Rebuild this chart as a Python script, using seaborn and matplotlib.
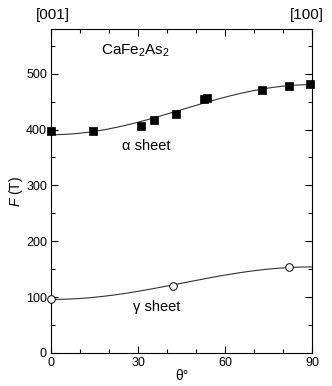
import numpy as np
import pandas as pd
import matplotlib.pyplot as plt
import seaborn as sns
from matplotlib.ticker import MultipleLocator

# alpha sheet (filled squares)
alpha_theta = [0, 14.5, 31, 35.6, 43, 52.8, 53.8, 72.9, 82, 89.3]
alpha_F = [397, 397, 406, 417, 427, 455, 456, 470, 477, 481]

# gamma sheet (open circles)
gamma_theta = [0, 42.2, 82.2]
gamma_F = [97, 120, 154]

sns.set_theme(style="ticks")
plt.rcParams['font.family'] = ['Liberation Sans', 'DejaVu Sans']
plt.rcParams['mathtext.fontset'] = 'custom'
plt.rcParams['mathtext.rm'] = 'Liberation Sans'
plt.rcParams['mathtext.it'] = 'Liberation Sans:italic'
for k in ['text.color', 'axes.labelcolor', 'xtick.color', 'ytick.color', 'axes.edgecolor']:
    plt.rcParams[k] = 'black'

fig = plt.figure(figsize=(3.32, 3.86), dpi=100)
ax = fig.add_axes([0.154, 0.0855, 0.786, 0.8395])


# fit F = a + b sin^2(theta) to each set
def fit_curve(th, f):
    th = np.radians(np.array(th))
    A = np.column_stack([np.ones_like(th), np.sin(th) ** 2])
    coef, *_ = np.linalg.lstsq(A, np.array(f, dtype=float), rcond=None)
    t = np.linspace(0, 90, 181)
    return t, coef[0] + coef[1] * np.sin(np.radians(t)) ** 2


for th, f in [(alpha_theta, alpha_F), (gamma_theta, gamma_F)]:
    t, curve = fit_curve(th, f)
    sns.lineplot(x=t, y=curve, ax=ax, color="#333333", lw=0.8)

df_a = pd.DataFrame({"theta": alpha_theta, "F": alpha_F})
df_g = pd.DataFrame({"theta": gamma_theta, "F": gamma_F})
sns.scatterplot(data=df_a, x="theta", y="F", ax=ax, marker="s", s=33,
                color="black", edgecolor="black", linewidth=0.5, zorder=3,
                clip_on=False)
sns.scatterplot(data=df_g, x="theta", y="F", ax=ax, marker="o", s=30,
                facecolor="white", edgecolor="black", linewidth=0.7, zorder=3,
                clip_on=False)

ax.set_xlim(0, 90)
ax.set_ylim(0, 580)
ax.xaxis.set_major_locator(MultipleLocator(30))
ax.xaxis.set_minor_locator(MultipleLocator(10))
ax.yaxis.set_major_locator(MultipleLocator(100))
ax.yaxis.set_minor_locator(MultipleLocator(50))
ax.tick_params(which="both", direction="in", top=True, right=True,
               labelsize=9, width=0.8, pad=3)
ax.tick_params(which="major", length=5)
ax.tick_params(which="minor", length=3)
for s in ax.spines.values():
    s.set_linewidth(0.8)

ax.set_xlabel("θ°", fontsize=10, labelpad=0)
ax.set_ylabel("$F$ (T)", fontsize=10, labelpad=1)

ax.text(17.2, 540, "CaFe$_2$As$_2$", fontsize=11, va="center")
ax.text(24.6, 371, "α sheet", fontsize=10.5, va="center")
ax.text(28.2, 83, "γ sheet", fontsize=10.5, va="center")
fig.text(0.160, 0.961, "[001]", fontsize=11, ha="center", va="center")
fig.text(0.925, 0.961, "[100]", fontsize=11, ha="center", va="center")

fig.savefig("out.png", dpi=100)
